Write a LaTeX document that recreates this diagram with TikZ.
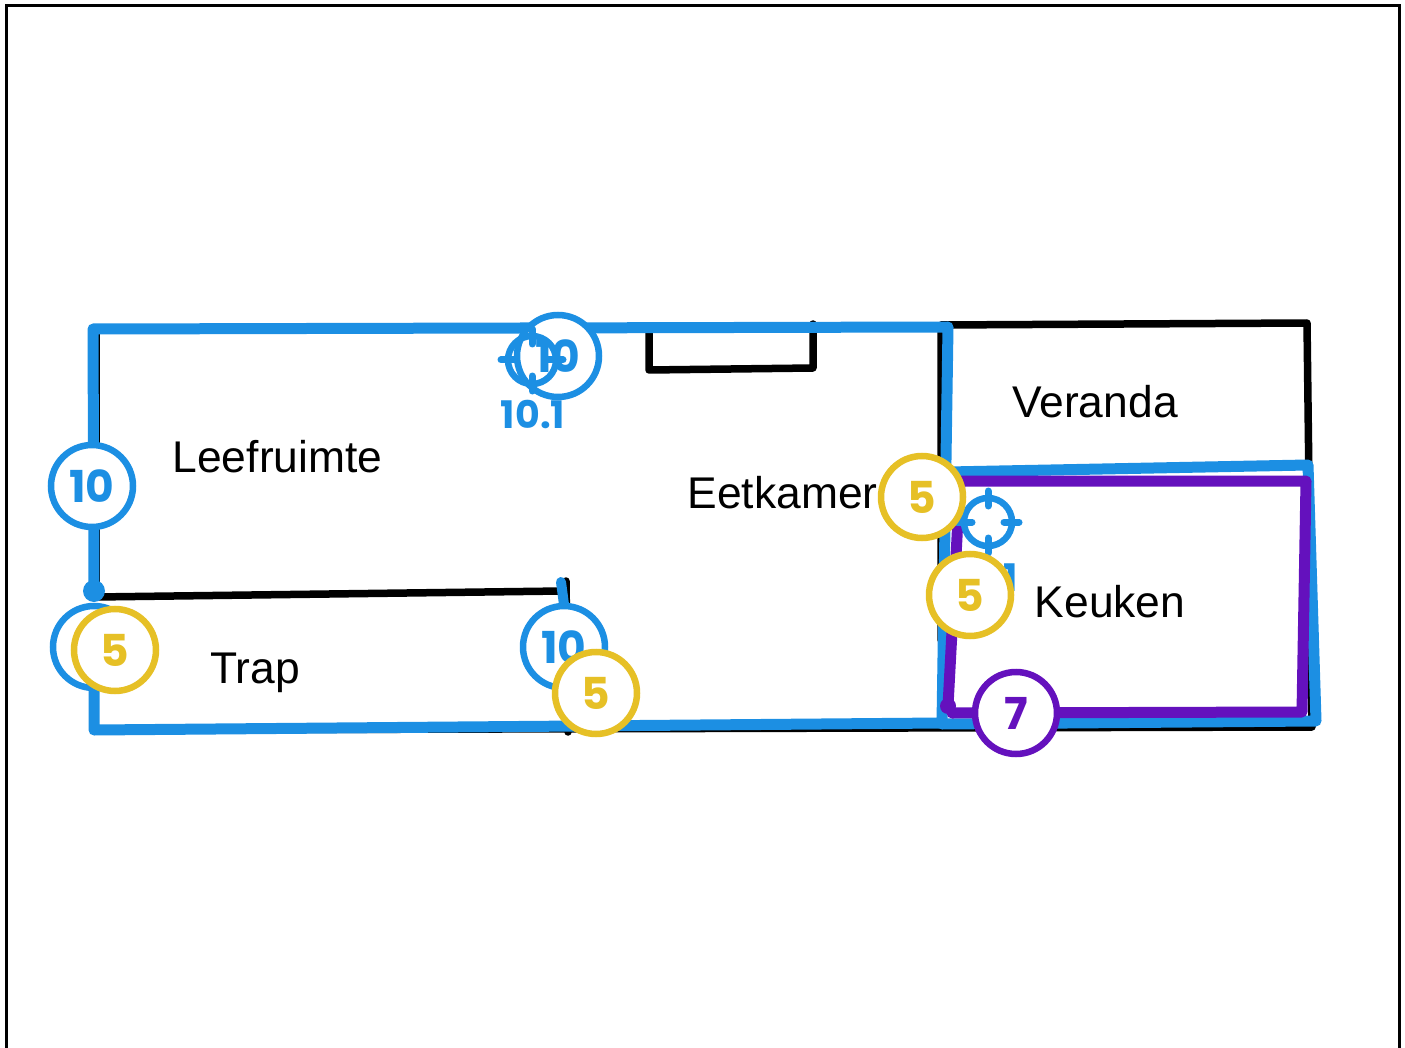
\documentclass[tikz,border=0pt]{standalone}
\usepackage{fontspec}
\setmainfont{Liberation Sans}
\newfontfamily\badgefont{Poppins}
\definecolor{wallblue}{HTML}{1C8FE3}
\definecolor{wallpurple}{HTML}{6411BD}
\definecolor{badgeyellow}{HTML}{E6C026}
\tikzset{
  blackwall/.style={draw=black,line width=7.5pt,line join=round,line cap=round},
  bluewall/.style={draw=wallblue,line width=11pt,line join=round,line cap=round},
  purplewall/.style={draw=wallpurple,line width=11pt,line join=round,line cap=round},
  room/.style={font=\fontsize{44.4}{44.4}\selectfont,text=black,inner sep=0pt},
  badge/.style={circle,draw=#1,text=#1,fill=white,line width=6.5pt,minimum size=82pt,inner sep=0pt,
     font=\badgefont\bfseries\fontsize{44}{44}\selectfont},
  markerlabel/.style={text=wallblue,inner sep=0pt,font=\badgefont\bfseries\fontsize{38}{38}\selectfont},
  aimring/.style={circle,draw=wallblue,line width=6.5pt,minimum size=48pt,inner sep=0pt},
  aimtick/.style={draw=wallblue,line width=7pt,line cap=round},
  dotmark/.style n args={2}{circle,fill=#1,inner sep=0pt,minimum size=#2},
}
\begin{document}
\begin{tikzpicture}[x=1pt,y=-1pt]
\useasboundingbox (0,0) rectangle (1405,1048);
\begin{scope}
\clip (0,0) rectangle (1405,1048);
\draw[black,line width=3pt] (6.5,6) rectangle (1399,1070);
\end{scope}
% coordinates
\coordinate (tl) at (93,329);
\coordinate (tm) at (948,327);
\coordinate (bl) at (94,730);
\coordinate (bm) at (942,723);
\coordinate (dotL) at (94,591);
% black walls
\draw[blackwall] (96,330) -- (96,597) -- (562,591);
\draw[blackwall] (566,581) -- (568,732);
\draw[blackwall] (bl) -- (1312,727) -- (1307,323) -- (941,325) -- (941,640);
\draw[blackwall] (649,330) -- (649,370) -- (813,368) -- (813,324);
% blue walls
\draw[bluewall] (dotL) -- (tl) -- (tm) -- (bm) -- (bl) -- (94,640);
\draw[bluewall,line width=10pt] (561,582) -- (565,612);
\draw[bluewall] (948,472) -- (1308,465) -- (1316,721) -- (942,724);
\node[dotmark={wallblue}{22pt}] (dotblue) at (dotL) {};
% purple wall
\draw[purplewall] (948,706) -- (960,481) -- (1306,481) -- (1302,712) -- (952,713);
\node[dotmark={wallpurple}{16pt}] (dotpurple) at (948,706) {};
% room labels
\node[room] (leef) at (277.5,457) {Leefruimte};
\node[room] (eet) at (782.5,493) {Eetkamer};
\node[room] (ver) at (1095,402) {Veranda};
\node[room] (keu) at (1110,602) {Keuken};
\node[room] (trap) at (255,673) {Trap};
% badges
\node[badge=wallblue] (b1) at (92,486) {10};
\node[badge=wallblue] (b2) at (558,356) {10};
\node[badge=wallblue] (b3) at (564,647) {10};
\node[badge=wallblue] (b4) at (94,647) {\makebox[0pt]{\hspace*{16pt}10}};
% marker 1
\node[aimring] (aimA) at (532,360) {};
\draw[aimtick] (532,329) -- (532,344);
\draw[aimtick] (532,376) -- (532,391);
\draw[aimtick] (501,360) -- (516,360);
\draw[aimtick] (548,360) -- (563,360);
\node[markerlabel] (aimAl) at (533,414) {10.1};
% marker 2
\node[aimring] (aimB) at (988,522) {};
\draw[aimtick] (988,491) -- (988,506);
\draw[aimtick] (988,538) -- (988,553);
\draw[aimtick] (957,522) -- (972,522);
\draw[aimtick] (1004,522) -- (1019,522);
\node[markerlabel] (aimBl) at (986,577) {10.1};
\node[badge=badgeyellow] (y1) at (115,650) {5};
\node[badge=badgeyellow] (y2) at (596,693) {5};
\node[badge=badgeyellow] (y3) at (922,497) {5};
\node[badge=badgeyellow] (y4) at (970,595) {5};
\node[badge=wallpurple] (p1) at (1016,713) {7};
\end{tikzpicture}
\end{document}
